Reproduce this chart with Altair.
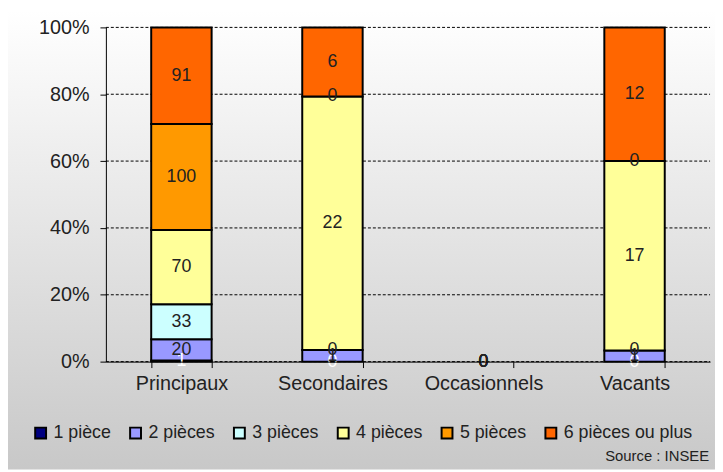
import altair as alt
import pandas as pd

categories = ["Principaux", "Secondaires", "Occasionnels", "Vacants"]
series = ["1 pièce", "2 pièces", "3 pièces", "4 pièces", "5 pièces", "6 pièces ou plus"]
colors = ["#000080", "#9999FF", "#CCFFFF", "#FFFF99", "#FF9900", "#FF6600"]
label_colors = ["#FFFFFF", "#222222", "#222222", "#222222", "#222222", "#222222"]
principaux = [1, 20, 33, 70, 100, 91]
secondaires = [0, 1, 0, 22, 0, 6]
occasionnels = [0, 0, 0, 0, 0, 0]
vacants = [0, 1, 0, 17, 0, 12]
y_ticks = [0, 0.2, 0.4, 0.6, 0.8, 1.0]
source_note = ["Source : INSEE"]

values = [principaux, secondaires, occasionnels, vacants]
rows = []
for cat, vals in zip(categories, values):
    for k, (s, v) in enumerate(zip(series, vals)):
        rows.append({"cat": cat, "serie": s, "k": k, "value": v, "lc": label_colors[k]})
df = pd.DataFrame(rows)

W, H = 611, 338
PL, PT, PR, PB = 99, 17, 5, 109

yscale = alt.Scale(domain=[0, 1], nice=False)

base = alt.Chart(df).transform_joinaggregate(
    total="sum(value)", groupby=["cat"]
).transform_calculate(
    frac="datum.total > 0 ? datum.value / datum.total : 0"
).transform_stack(
    stack="frac", groupby=["cat"], as_=["y0", "y1"], sort=[alt.SortField("k")]
).transform_calculate(
    mid="(datum.y0 + datum.y1) / 2"
)

xenc = alt.X(
    "cat:N", sort=categories, title=None,
    scale=alt.Scale(paddingInner=0.6, paddingOuter=0.3),
    axis=alt.Axis(labelAngle=0, tickBand="extent", tickSize=6, labelPadding=6,
                  labelFontSize=20, labelColor="#222222", domainColor="#000000",
                  tickColor="#000000", grid=False, zindex=1),
)

bg = alt.Chart(pd.DataFrame({"a": [0]})).mark_rect(
    color=alt.Gradient(gradient="linear", x1=0, x2=0, y1=0, y2=1,
                       stops=[alt.GradientStop(offset=0, color="#FFFFFF"),
                              alt.GradientStop(offset=1, color="#C8C8C8")])
).encode(
    x=alt.value(-PL), x2=alt.value(W + PR), y=alt.value(-PT), y2=alt.value(H + PB)
)

grid = alt.Chart(pd.DataFrame({"t": y_ticks})).mark_rule(
    color="#000000", strokeDash=[3, 2], strokeWidth=1
).encode(
    y=alt.Y("t:Q", scale=yscale),
    x=alt.value(0), x2=alt.value(W),
)

bars = base.transform_filter("datum.value > 0").mark_bar(
    stroke="#000000", strokeWidth=2
).encode(
    x=xenc,
    y=alt.Y("y0:Q", title=None, scale=yscale,
            axis=alt.Axis(format="%", values=y_ticks,
                          tickSize=6, labelPadding=11, labelFontSize=20,
                          labelColor="#222222", domainColor="#000000",
                          tickColor="#000000", grid=False, zindex=1)),
    y2="y1:Q",
    color=alt.Color("serie:N", sort=series,
                    scale=alt.Scale(domain=series, range=colors),
                    legend=alt.Legend(title=None, orient="none", direction="horizontal",
                                      legendX=-75, legendY=401, symbolType="square",
                                      symbolSize=121, symbolStrokeColor="#000000",
                                      symbolStrokeWidth=2, labelFontSize=18,
                                      labelColor="#222222", labelOffset=4,
                                      columnPadding=14, symbolOpacity=1)),
    order=alt.Order("k:Q"),
)

labels = base.mark_text(fontSize=18, baseline="middle", align="center").encode(
    x=alt.X("cat:N", sort=categories),
    y=alt.Y("mid:Q"),
    text=alt.Text("value:Q"),
    color=alt.Color("lc:N", scale=None),
    order=alt.Order("k:Q"),
)

src = alt.Chart(pd.DataFrame({"t": source_note})).mark_text(
    fontSize=15, align="right", baseline="middle", color="#222222"
).encode(
    x=alt.value(610), y=alt.value(433), text="t:N"
)

chart = alt.layer(bg, grid, bars, labels, src).properties(
    width=W, height=H,
    autosize=alt.AutoSizeParams(type="none"),
    padding={"left": PL, "top": PT, "right": PR, "bottom": PB},
).configure_view(stroke=None).configure(font="Liberation Sans")

chart.save("out.html", embed_options={"renderer": "svg", "actions": False})
